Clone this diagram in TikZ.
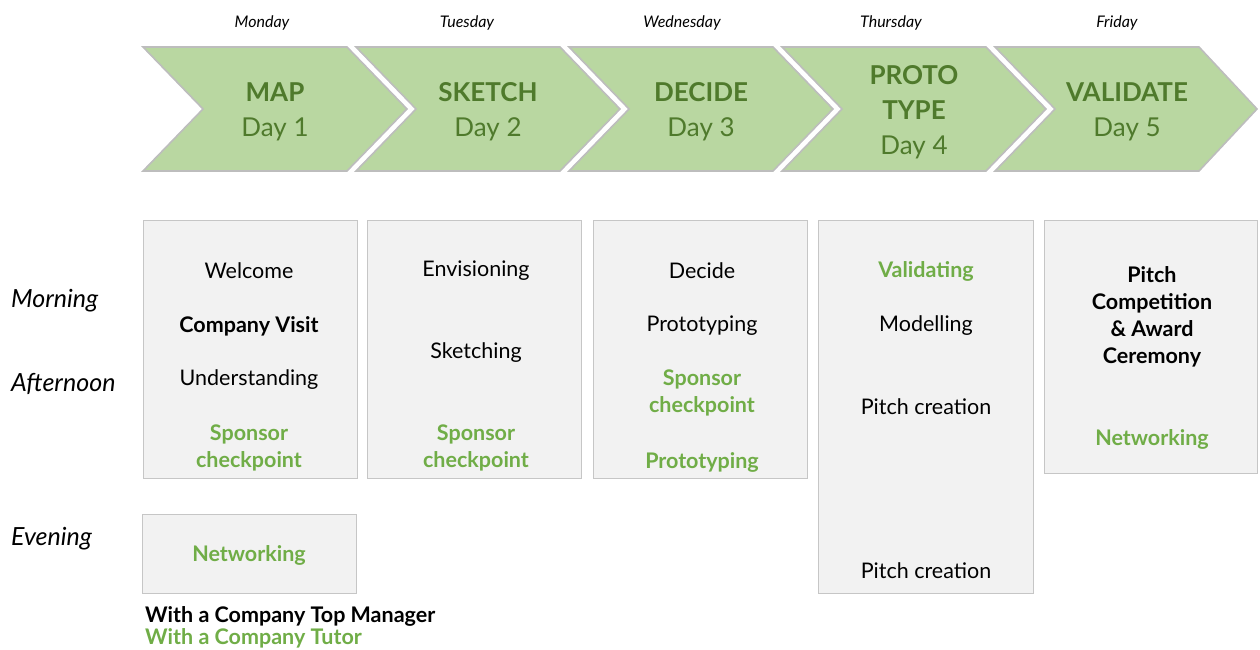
\documentclass[tikz,border=0pt]{standalone}
\usepackage{fontspec}
\setmainfont{Lato}
\definecolor{chevfill}{HTML}{B9D7A1}
\definecolor{chevedge}{HTML}{BDBDBD}
\definecolor{chevtext}{HTML}{4F7A2C}
\definecolor{accent}{HTML}{70AD47}
\definecolor{boxfill}{HTML}{F2F2F2}
\definecolor{boxline}{HTML}{C6C6C6}
\begin{document}
\begin{tikzpicture}[x=1pt,y=-1pt,
  chevshape/.style={fill=chevfill,draw=chevedge,line width=1.6pt,line join=miter},
  chevlabel/.style={align=center,text=chevtext,font=\fontsize{26}{35}\selectfont,inner sep=0pt},
  dayname/.style={font=\fontsize{16}{18}\selectfont\itshape,inner sep=0pt},
  slotlabel/.style={font=\fontsize{25}{27}\selectfont\itshape,anchor=west,inner sep=0pt},
  daybox/.style={fill=boxfill,draw=boxline,line width=0.9pt},
  plainitem/.style={font=\fontsize{21.5}{27}\selectfont,align=center,inner sep=0pt},
  keyitem/.style={plainitem,font=\fontsize{21.5}{27}\selectfont\bfseries},
  tutoritem/.style={plainitem,text=accent,font=\fontsize{21.5}{27}\selectfont\bfseries},
  legendline/.style={font=\fontsize{21.5}{22}\selectfont\bfseries,anchor=west,inner sep=0pt}]
\useasboundingbox (0,0) rectangle (1260,650);

% day chevrons, one every 213 units
\begin{scope}[shift={(143,0)}]
  \draw[chevshape] (0,47) -- (204,47) -- (264,109) -- (204,171) -- (0,171) -- (60,109) -- cycle;
  \node[chevlabel] (chev1) at (132,112) {\textbf{MAP}\\Day 1};
\end{scope}
\begin{scope}[shift={(356,0)}]
  \draw[chevshape] (0,47) -- (204,47) -- (264,109) -- (204,171) -- (0,171) -- (60,109) -- cycle;
  \node[chevlabel] (chev2) at (132,112) {\textbf{SKETCH}\\Day 2};
\end{scope}
\begin{scope}[shift={(569,0)}]
  \draw[chevshape] (0,47) -- (204,47) -- (264,109) -- (204,171) -- (0,171) -- (60,109) -- cycle;
  \node[chevlabel] (chev3) at (132,112) {\textbf{DECIDE}\\Day 3};
\end{scope}
\begin{scope}[shift={(782,0)}]
  \draw[chevshape] (0,47) -- (204,47) -- (264,109) -- (204,171) -- (0,171) -- (60,109) -- cycle;
  \node[chevlabel] (chev4) at (132,112) {\textbf{PROTO}\\\textbf{TYPE}\\Day 4};
\end{scope}
\begin{scope}[shift={(995,0)}]
  \draw[chevshape] (0,47) -- (204,47) -- (262,109) -- (204,171) -- (0,171) -- (60,109) -- cycle;
  \node[chevlabel] (chev5) at (132,112) {\textbf{VALIDATE}\\Day 5};
\end{scope}

% weekday captions
\node[dayname] (wd1) at (262,23) {Monday};
\node[dayname] (wd2) at (467,23) {Tuesday};
\node[dayname] (wd3) at (682,23) {Wednesday};
\node[dayname] (wd4) at (891,23) {Thursday};
\node[dayname] (wd5) at (1117,23) {Friday};

% time-of-day labels
\node[slotlabel] (morning) at (11,301) {Morning};
\node[slotlabel] (afternoon) at (11,384) {Afternoon};
\node[slotlabel] (evening) at (11,539) {Evening};

% schedule boxes
\draw[daybox] (143,220) rectangle (357,478);
\draw[daybox] (367,220) rectangle (581,478);
\draw[daybox] (593,220) rectangle (807,478);
\draw[daybox] (818,220) rectangle (1033,593);
\draw[daybox] (1044,220) rectangle (1257,473);
\draw[daybox] (142,514) rectangle (356,593);

% Monday
\node[plainitem] (m1) at (249,271) {Welcome};
\node[keyitem] (m2) at (249,326) {Company Visit};
\node[plainitem] (m3) at (249,380) {Understanding};
\node[tutoritem] (m4) at (249,448) {Sponsor\\checkpoint};
\node[tutoritem] (m5) at (249,555) {Networking};

% Tuesday
\node[plainitem] (t1) at (476,271) {Envisioning};
\node[plainitem] (t2) at (476,353) {Sketching};
\node[tutoritem] (t3) at (476,448) {Sponsor\\checkpoint};

% Wednesday
\node[plainitem] (w1) at (702,271) {Decide};
\node[plainitem] (w2) at (702,326) {Prototyping};
\node[tutoritem] (w3) at (702,393) {Sponsor\\checkpoint};
\node[tutoritem] (w4) at (702,462) {Prototyping};

% Thursday
\node[tutoritem] (h1) at (926,271) {Validating};
\node[plainitem] (h2) at (926,326) {Modelling};
\node[plainitem] (h3) at (926,407) {Pitch creation};
\node[plainitem] (h4) at (926,571) {Pitch creation};

% Friday
\node[keyitem] (f1) at (1152,317) {Pitch\\Competition\\\& Award\\Ceremony};
\node[tutoritem] (f2) at (1152,439) {Networking};

% legend
\node[legendline] (lg1) at (145,616) {With a Company Top Manager};
\node[legendline,text=accent] (lg2) at (145,638) {With a Company Tutor};
\end{tikzpicture}
\end{document}
